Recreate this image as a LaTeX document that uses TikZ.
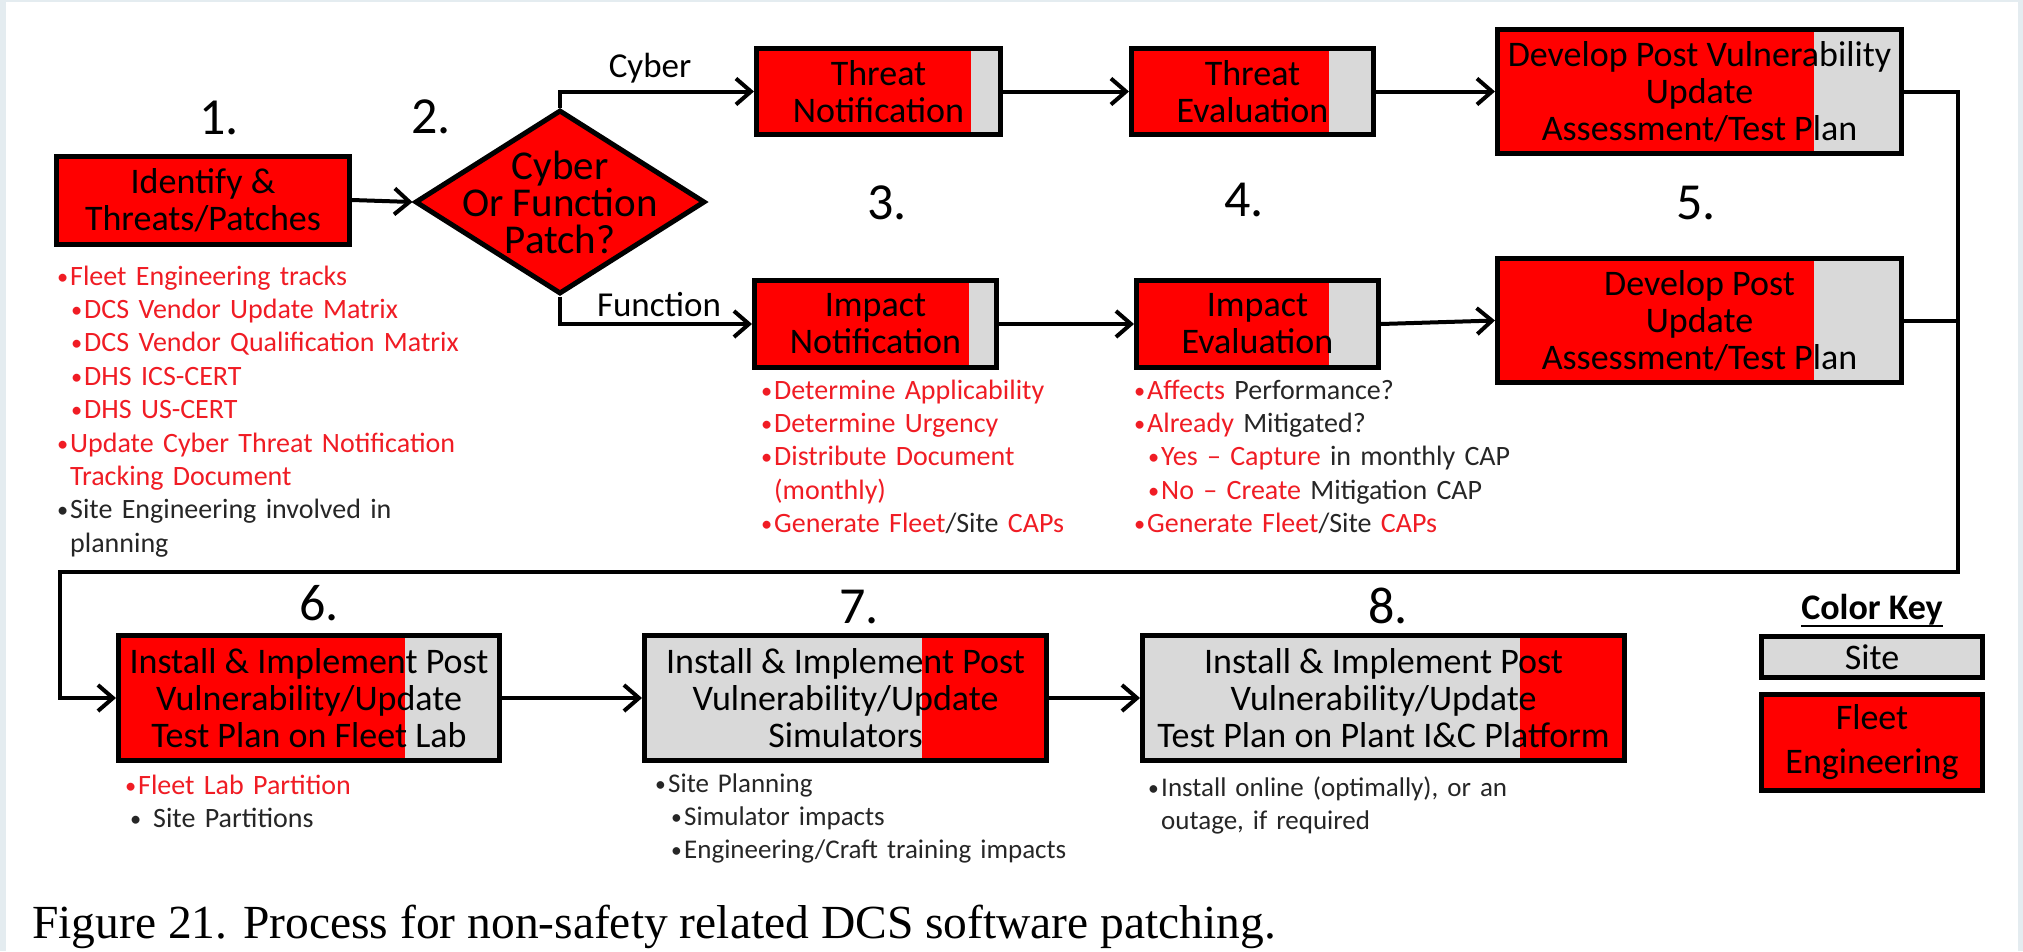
\documentclass[tikz,border=0pt]{standalone}
\usepackage{fontspec}
\usepackage{graphicx}
\setmainfont{Carlito}
\newfontfamily\capfont{Liberation Serif}
\usetikzlibrary{arrows.meta,positioning,shapes.geometric}
\definecolor{fleetred}{RGB}{255,0,0}
\definecolor{sitegray}{RGB}{217,217,217}
\definecolor{notered}{RGB}{240,28,36}
\definecolor{noteblk}{RGB}{38,38,38}
\definecolor{edgeblue}{RGB}{228,236,240}
\newcommand{\bx}{\fontsize{36}{37}\selectfont}
\newcommand{\itm}{\makebox[12pt][l]{\hspace*{-1pt}\raisebox{1pt}{\scalebox{0.8}{\textbullet}}}}
\newcommand{\Sc}[1]{\textcolor{noteblk}{#1}}
\tikzset{
  stepbox/.style={draw=black, line width=5pt, fill=fleetred, inner sep=0pt,
                  align=center, font=\bx},
  siteend/.style={path picture={\fill[sitegray]
      ([xshift=-#1]path picture bounding box.north east)
      rectangle (path picture bounding box.south east);}},
  fleetend/.style={path picture={\fill[fleetred]
      ([xshift=-#1]path picture bounding box.north east)
      rectangle (path picture bounding box.south east);}},
  decision/.style={diamond, draw=black, line width=5pt, fill=fleetred, inner sep=0pt},
  flow/.style={line width=4pt, -{Straight Barb[length=15pt, width=26pt]}},
  link/.style={line width=4pt},
  num/.style={font=\fontsize{52}{52}\selectfont},
  lbl/.style={font=\fontsize{35}{36}\selectfont},
  note/.style={anchor=base west, text width=460pt, align=left, inner sep=0pt,
               text=notered, font=\fontsize{28}{33.4}\selectfont},
}

\begin{document}
\begin{tikzpicture}[x=1pt, y=-1pt]
  \useasboundingbox (0,0) rectangle (2023,951);
  \fill[edgeblue] (0,0) rectangle (2023,951);
  \fill[white] (6,2) rectangle (2018,951);

  % step 1 and decision
  \node[stepbox, minimum width=293pt, minimum height=88pt] (idt) at (203,200) {Identify \&\\Threats/Patches};
  \node[decision, minimum width=290pt, minimum height=184pt] (dec) at (560,202) {};
  \node[font=\fontsize{41}{37}\selectfont, align=center] (dect) at (dec) {Cyber\\Or Function\\Patch?};

  % cyber row
  \node[stepbox, siteend=30pt, minimum width=244pt, minimum height=86pt] (thn) at (878.5,91.5) {Threat\\Notification};
  \node[stepbox, siteend=45pt, minimum width=242pt, minimum height=86pt] (the) at (1252.5,91.5) {Threat\\Evaluation};
  \node[stepbox, siteend=88pt, minimum width=404pt, minimum height=124pt] (dv5) at (1699.5,91.5) {Develop Post Vulnerability\\Update\\Assessment/Test Plan};

  % function row
  \node[stepbox, siteend=28pt, minimum width=242pt, minimum height=87pt] (imn) at (875.5,324) {Impact\\Notification};
  \node[stepbox, siteend=50pt, minimum width=242pt, minimum height=87pt] (ime) at (1257.5,324) {Impact\\Evaluation};
  \node[stepbox, siteend=88pt, minimum width=404pt, minimum height=124pt] (du5) at (1699.5,320.5) {Develop Post\\Update\\Assessment/Test Plan};

  % install row
  \node[stepbox, siteend=95pt, minimum width=381pt, minimum height=125pt] (ins6) at (309,698) {Install \& Implement Post\\Vulnerability/Update\\Test Plan on Fleet Lab};
  \node[stepbox, fill=sitegray, fleetend=125pt, minimum width=402pt, minimum height=125pt] (ins7) at (845.5,698) {Install \& Implement Post\\Vulnerability/Update\\Simulators};
  \node[stepbox, fill=sitegray, fleetend=105pt, minimum width=482pt, minimum height=125pt] (ins8) at (1383.5,698) {Install \& Implement Post\\Vulnerability/Update\\Test Plan on Plant I\&C Platform};

  \node[num] (n1) at (219,118) {1.};
  \node[num] (n2) at (431,117) {2.};
  \node[num] (n3) at (887,203) {3.};
  \node[num] (n4) at (1244,200) {4.};
  \node[num] (n5) at (1696,203) {5.};
  \node[num] (n6) at (319,603) {6.};
  \node[num] (n7) at (859,607) {7.};
  \node[num] (n8) at (1388,606) {8.};

  \node[lbl] (cyb) at (650,68) {Cyber};
  \node[lbl] (fnc) at (659,305) {Function};

  % connectors
  \coordinate (rt) at (1958,572);
  \coordinate (lt) at (60,572);
  \draw[flow] (idt.east) -- (dec.west);
  \draw[flow] (dec.north) |- (thn.west);
  \draw[flow] (dec.south) |- (imn.west);
  \draw[flow] (thn) -- (the);
  \draw[flow] (the) -- (dv5);
  \draw[flow] (imn) -- (ime);
  \draw[flow] (ime.east) -- (du5.west);
  \draw[flow] (dv5.east) -| (rt) -- (lt) |- (ins6.west);
  \draw[link] (du5.east) -- (du5.east -| rt);
  \draw[flow] (ins6) -- (ins7);
  \draw[flow] (ins7) -- (ins8);

  % notes
  \node[note] (nt1) at (58,285) {\itm Fleet Engineering tracks\\
    \hspace*{14pt}\itm DCS Vendor Update Matrix\\
    \hspace*{14pt}\itm DCS Vendor Qualification Matrix\\
    \hspace*{14pt}\itm DHS ICS-CERT\\
    \hspace*{14pt}\itm DHS US-CERT\\
    \itm Update Cyber Threat Notification\\
    \hspace*{12pt}Tracking Document\\
    \Sc{\itm Site Engineering involved in}\\
    \Sc{\hspace*{12pt}planning}};
  \node[note] (nt3) at (762,399) {\itm Determine Applicability\\
    \itm Determine Urgency\\
    \itm Distribute Document\\
    \hspace*{12pt}(monthly)\\
    \itm Generate Fleet\Sc{/Site} CAPs};
  \node[note] (nt4) at (1135,399) {\itm Affects \Sc{Performance?}\\
    \itm Already \Sc{Mitigated?}\\
    \hspace*{14pt}\itm Yes \textendash{} Capture \Sc{in monthly CAP}\\
    \hspace*{14pt}\itm No \textendash{} Create \Sc{Mitigation CAP}\\
    \itm Generate Fleet\Sc{/Site} CAPs};
  \node[note] (nt6) at (126,794) {\itm Fleet Lab Partition\\
    \Sc{\hspace*{4pt}\makebox[23pt][l]{\raisebox{1pt}{\scalebox{0.8}{\textbullet}}}Site Partitions}};
  \node[note, text=noteblk, font=\fontsize{27}{33.4}\selectfont] (nt7) at (656,792) {\itm Site Planning\\
    \hspace*{16pt}\itm Simulator impacts\\
    \hspace*{16pt}\itm Engineering/Craft training impacts};
  \node[note, text=noteblk, font=\fontsize{27}{33.4}\selectfont] (nt8) at (1149,796) {\itm Install online (optimally), or an\\
    \hspace*{12pt}outage, if required};

  % colour key
  \node[font=\fontsize{36}{37}\selectfont\bfseries, inner sep=0pt] (ckey) at (1872,610) {Color Key};
  \draw[line width=2.5pt] ([yshift=-6pt]ckey.base west) -- ([yshift=-6pt]ckey.base east);
  \node[stepbox, fill=sitegray, minimum width=221pt, minimum height=41pt] (ksite) at (1872,657) {Site};
  \node[stepbox, minimum width=221pt, minimum height=96pt, font=\fontsize{36}{44}\selectfont] (kflt) at (1872,742.5) {Fleet\\Engineering};

  \node[anchor=west, inner sep=0pt, font=\capfont\fontsize{47.5}{47.5}\selectfont] (cap) at (32,927) {Figure 21. Process for non-safety related DCS software patching.};
\end{tikzpicture}
\end{document}
